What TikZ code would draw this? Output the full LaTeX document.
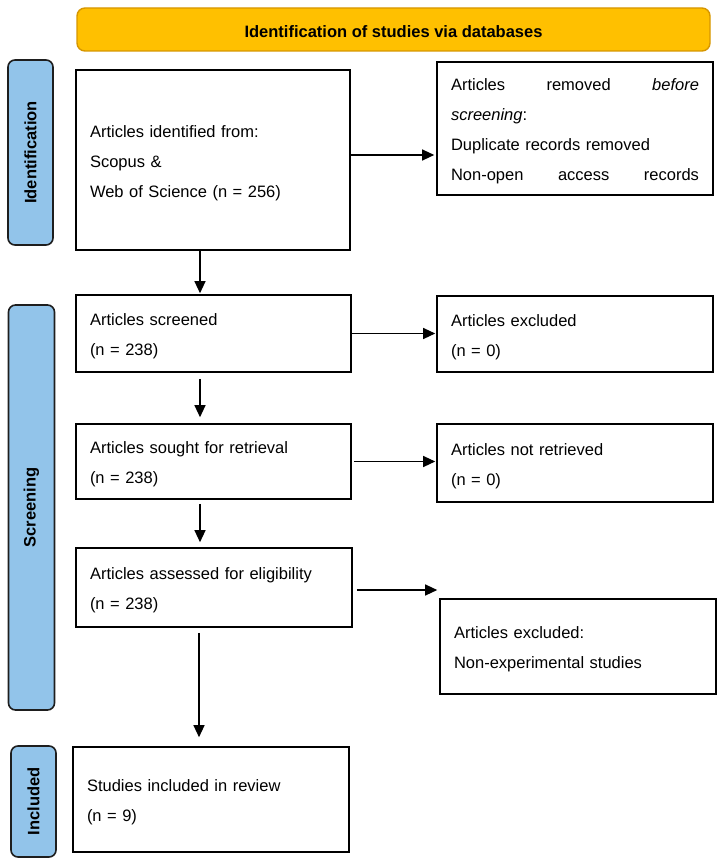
\documentclass[tikz,border=0pt]{standalone}
\usepackage{fontspec}
\setmainfont{Liberation Sans}
\usetikzlibrary{arrows.meta,calc}
\definecolor{hdrfill}{RGB}{255,192,0}
\definecolor{hdrline}{RGB}{214,150,0}
\definecolor{sidefill}{RGB}{146,196,234}
\definecolor{sideline}{RGB}{30,30,30}
\newcommand{\tpstrut}{\rule{0pt}{18pt}}
\tikzset{
  txt/.style={font=\fontsize{16.5}{30}\selectfont},
  flowbox/.style={draw=black, line width=1.6pt, fill=white, inner xsep=14pt, inner ysep=0pt, align=left, txt, anchor=center},
  sidebox/.style={draw=sideline, line width=1.6pt, fill=sidefill, rounded corners=7pt, inner sep=0pt},
  sidelabel/.style={rotate=90, font=\fontsize{16.5}{20}\selectfont\bfseries},
  arr/.style={line width=1.2pt, -{Triangle[length=12pt,width=11pt]}}
}
\begin{document}
\begin{tikzpicture}[x=1pt,y=-1pt]
\useasboundingbox (0,0) rectangle (723,861);
% header
\node[draw=hdrline, line width=1.4pt, fill=hdrfill, rounded corners=8pt, minimum width=633pt, minimum height=43pt, inner sep=0pt] (hdr) at (393.5,29.5) {};
\node[font=\fontsize{16.5}{20}\selectfont\bfseries] (hdrtxt) at (393.5,32) {Identification of studies via databases};
% sidebars
\node[sidebox, minimum width=45pt, minimum height=185pt] (sideid) at (30.5,152.5) {};
\node[sidelabel] (lblid) at (sideid.center) {Identification};
\node[sidebox, minimum width=46pt, minimum height=405pt] (sidesc) at (31.5,507.5) {};
\node[sidelabel] (lblsc) at (sidesc.center) {Screening};
\node[sidebox, minimum width=45pt, minimum height=111pt] (sidein) at (33.5,801.5) {};
\node[sidelabel] (lblin) at (sidein.center) {Included};
% boxes
\node[flowbox, text width=246pt, minimum height=180pt] (ident) at (213,160) {\tpstrut Articles identified from:\\Scopus \&\\Web of Science (n = 256)};
\node[flowbox, text width=248pt, minimum height=133pt] (removed) at (575,128.5) {\tpstrut\hbox to 248pt{Articles\hfill removed\hfill \textit{before}}\\\textit{screening}:\\Duplicate records removed\\\hbox to 248pt{Non-open\hfill access\hfill records}};
\node[flowbox, text width=247pt, minimum height=77pt] (screened) at (213.5,333.5) {\tpstrut Articles screened\\(n = 238)};
\node[flowbox, text width=248pt, minimum height=76pt] (excl) at (575,334) {\tpstrut Articles excluded\\(n = 0)};
\node[flowbox, text width=247pt, minimum height=75pt] (sought) at (213.5,461.5) {\tpstrut Articles sought for retrieval\\(n = 238)};
\node[flowbox, text width=248pt, minimum height=78pt] (notret) at (575,463) {\tpstrut Articles not retrieved\\(n = 0)};
\node[flowbox, text width=248pt, minimum height=79pt] (assess) at (214,587.5) {\tpstrut Articles assessed for eligibility\\(n = 238)};
\node[flowbox, text width=248pt, minimum height=95pt] (excltwo) at (578,646.5) {\tpstrut Articles excluded:\\Non-experimental studies};
\node[flowbox, text width=248pt, minimum height=105pt] (incl) at (211,799.5) {\tpstrut Studies included in review\\(n = 9)};
% arrows (yshift is in canvas units: positive = up)
\draw[arr] ([xshift=-13pt]ident.south) -- ([xshift=-13.5pt,yshift=1pt]screened.north);
\draw[arr] ([yshift=5pt]ident.east) -- ([xshift=-2pt,yshift=5pt]ident.east -| removed.west);
\draw[arr] ([xshift=-13.5pt,yshift=-6pt]screened.south) -- ([xshift=-13.5pt,yshift=6pt]sought.north);
\draw[arr] (screened.east) -- ([xshift=-1pt]screened.east -| excl.west);
\draw[arr] ([xshift=-13.5pt,yshift=-4pt]sought.south) -- ([xshift=-14pt,yshift=5pt]assess.north);
\draw[arr] ([xshift=2pt]sought.east) -- ([xshift=-1pt]sought.east -| notret.west);
\draw[arr] ([xshift=4pt,yshift=-2.5pt]assess.east) -- ([xshift=-2pt,yshift=-2.5pt]assess.east -| excltwo.west);
\draw[arr] ([xshift=-15pt,yshift=-5pt]assess.south) -- ([xshift=-12pt,yshift=9pt]incl.north);
\end{tikzpicture}
\end{document}
